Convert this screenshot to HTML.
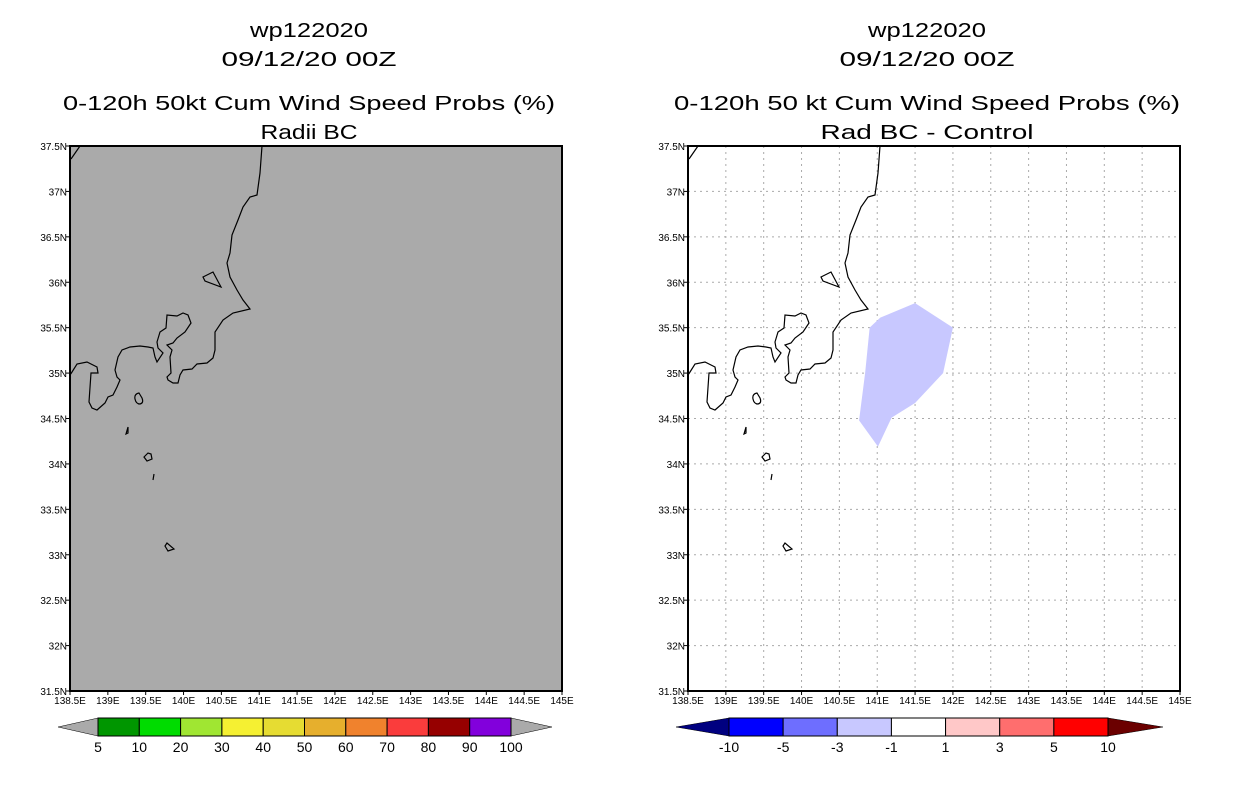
<!DOCTYPE html>
<html><head><meta charset="utf-8"><style>
body{margin:0;background:#fff;width:1236px;height:800px;overflow:hidden}
svg text{font-family:"Liberation Sans",sans-serif}
</style></head><body>
<svg id="s" width="1236" height="800" xmlns="http://www.w3.org/2000/svg">
<g font-size="20" text-anchor="middle" fill="#000">
<text x="309" y="37" textLength="118" lengthAdjust="spacingAndGlyphs">wp122020</text>
<text x="309" y="66" textLength="175" lengthAdjust="spacingAndGlyphs">09/12/20 00Z</text>
<text x="309" y="110" textLength="492" lengthAdjust="spacingAndGlyphs">0-120h 50kt Cum Wind Speed Probs (%)</text>
<text x="309" y="139" textLength="97" lengthAdjust="spacingAndGlyphs">Radii BC</text>
<text x="927" y="37" textLength="118" lengthAdjust="spacingAndGlyphs">wp122020</text>
<text x="927" y="66" textLength="175" lengthAdjust="spacingAndGlyphs">09/12/20 00Z</text>
<text x="927" y="110" textLength="506" lengthAdjust="spacingAndGlyphs">0-120h 50 kt Cum Wind Speed Probs (%)</text>
<text x="927" y="139" textLength="213" lengthAdjust="spacingAndGlyphs">Rad BC - Control</text>
</g>
</svg>
<script>
const lonTicks=["138.5E","139E","139.5E","140E","140.5E","141E","141.5E","142E","142.5E","143E","143.5E","144E","144.5E","145E"];
const latTicks=["31.5N","32N","32.5N","33N","33.5N","34N","34.5N","35N","35.5N","36N","36.5N","37N","37.5N"];
const diffLon=[140.90,141.04,141.50,142.0,141.87,141.50,141.19,141.01,140.76,140.84];
const diffLat=[35.50,35.61,35.77,35.50,35.0,34.67,34.51,34.19,34.48,35.0];
const probLabels=["5","10","20","30","40","50","60","70","80","90","100"];
const probColors=["#009600","#00dc00","#a0e632","#f5f032","#e6dc32","#e6af2d","#f0822d","#fa3c3c","#960000","#8200dc"];
const diffLabels=["-10","-5","-3","-1","1","3","5","10"];
const diffColors=["#0000ff","#6e6eff","#c8c8ff","#ffffff","#ffc8c8","#ff6e6e","#ff0000"];
const NS="http://www.w3.org/2000/svg",S=document.getElementById('s');
function mk(t,a,p){const e=document.createElementNS(NS,t);for(const k in a)e.setAttribute(k,a[k]);(p||S).appendChild(e);return e;}
const W=492,H=545,lon0=138.5,lon1=145,lat0=31.5,lat1=37.5;
const coast="M192,0 L190,27 L187,49 L180,51 L173,61 L168,74 L162,89 L160,107 L157,117 L160,131 L167,144 L173,154 L180,163 L163,167 L153,174 L145,186 L145,204 L143,212 L137,217 L127,218 L122,223 L113,224 L110,229 L108,237 L103,237 L98,234 L97,231 L101,227 L100,211 L102,204 L97,199 L103,197 L107,192 L115,186 L121,177 L118,169 L113,167 L107,170 L97,169 L96,182 L90,186 L87,196 L88,202 L93,207 L87,216 L85,211 L83,202 L78,201 L70,200 L60,201 L52,204 L48,211 L45,224 L47,231 L50,234 L47,241 L43,249 L38,251 L35,257 L27,264 L22,262 L19,256 L21,227 L28,227 L27,221 L17,216 L7,218 L2,226 L0,229 M1,13 L10,0 M133,131 L143,126 L151,141 L135,135 Z M69,247 q-5,1 -4,6 q1,5 5,5 q4,-1 2,-6 Z M58,281 l-2,7 l2,-1 Z M78,307 l-4,4 l3,4 l5,-2 l-1,-5 Z M84,328 l-1,6 M97,397 l-2,3 l3,5 l6,-2 Z";
function panel(ox,kind){
  const g=mk('g',{});
  
  
  const x=l=>ox+(l-lon0)/(lon1-lon0)*W, y=l=>146+(lat1-l)/(lat1-lat0)*H;
  const bg=mk('rect',{x:ox,y:146,width:W,height:H,fill:kind==='left'?'#aaaaaa':'#fff'},g);
  
  if(kind==='right'){
    lonTicks.forEach((t,i)=>{if(i>0&&i<lonTicks.length-1){const gx=x(lon0+0.5*i);const l=mk('line',{x1:gx,x2:gx,y1:146,y2:691,stroke:'#aaa','stroke-dasharray':'2,4'},g);}});
    latTicks.forEach((t,i)=>{if(i>0&&i<latTicks.length-1){const gy=y(lat0+0.5*i);const l=mk('line',{x1:ox,x2:ox+W,y1:gy,y2:gy,stroke:'#aaa','stroke-dasharray':'2,4'},g);}});
    const pts=diffLon.map((lo,i)=>x(lo)+','+y(diffLat[i])).join(' ');
    const p=mk('polygon',{points:pts,fill:'#c8c8ff'},g);
    
  }
  const c=mk('path',{d:coast,fill:'none',stroke:'#000','stroke-width':1.2,transform:`translate(${ox},146)`},g);
  
  const f=mk('rect',{x:ox,y:146,width:W,height:H,fill:'none',stroke:'#000','stroke-width':2},g);
  
  lonTicks.forEach((t,i)=>{const tx=x(lon0+0.5*i);
    mk('line',{x1:tx,x2:tx,y1:691,y2:695,stroke:'#000'},g);
    const e=mk('text',{x:tx,y:704,'font-size':10,'text-anchor':'middle'},g);e.textContent=t;
    });
  latTicks.forEach((t,i)=>{const ty=y(lat0+0.5*i);
    mk('line',{x1:ox-4,x2:ox,y1:ty,y2:ty,stroke:'#000'},g);
    const e=mk('text',{x:ox-3,y:ty+4,'font-size':10,'text-anchor':'end'},g);e.textContent=t;
    });
}
panel(70,'left');panel(688,'right');
function cbar(x0,x1,tl,tr,colors,labels,lc,rc,name){
  const g=mk('g',{});
  
  
  const y0=718,y1=736,ym=(y0+y1)/2,bw=(x1-x0)/colors.length;
  mk('polygon',{points:`${tl},${ym} ${x0},${y0} ${x0},${y1}`,fill:lc,stroke:'#000','stroke-width':0.5},g);
  mk('polygon',{points:`${tr},${ym} ${x1},${y0} ${x1},${y1}`,fill:rc,stroke:'#000','stroke-width':0.5},g);
  colors.forEach((c,i)=>{const r=mk('rect',{x:x0+i*bw,y:y0,width:bw,height:y1-y0,fill:c,stroke:'#000'},g);
    });
  labels.forEach((l,i)=>{const e=mk('text',{x:x0+i*bw,y:752,'font-size':14,'text-anchor':'middle'},g);e.textContent=l;
    });
}
cbar(98,511,58,552,probColors,probLabels,'#aaaaaa','#aaaaaa','prob-colorbar');
cbar(729,1108,676,1163,diffColors,diffLabels,'#000080','#6b0000','diff-colorbar');
</script>
</body></html>
